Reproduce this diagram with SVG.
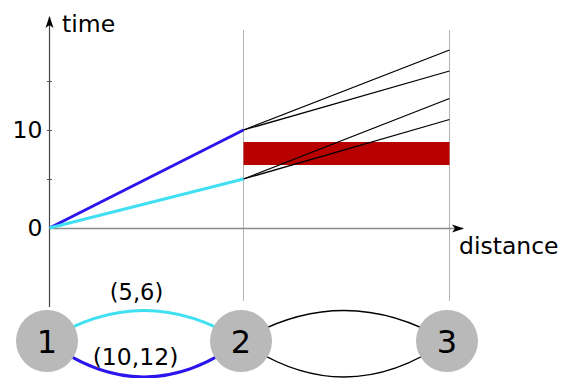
<svg xmlns="http://www.w3.org/2000/svg" width="563" height="378" viewBox="0 0 563 378">
<style>
  text { font-family: "DejaVu Sans", sans-serif; fill: #000; }
  .grid { stroke: #b4b4b4; stroke-width: 1; fill: none; }
  .tick { stroke: #555; stroke-width: 1; }
  .node circle { fill: #b9b9b9; }
  .node text { font-size: 32px; text-anchor: middle; }
  .lbl { font-size: 23.5px; }
  .edge { fill: none; }
  .thin { stroke: #000; stroke-width: 1.3; fill: none; }
</style>
<defs>
  <marker id="arr" viewBox="-13 -5 15 10" refX="0" refY="0" markerWidth="15" markerHeight="10" markerUnits="userSpaceOnUse" orient="auto">
    <path d="M1,0 L-11,-4 L-8,0 L-11,4 z" fill="#000"/>
  </marker>
</defs>
<rect width="563" height="378" fill="#fff"/>
<g id="chart">
  <line class="grid" x1="243.5" y1="30" x2="243.5" y2="301"/>
  <line class="grid" x1="449.5" y1="30" x2="449.5" y2="301"/>
  <rect x="243.5" y="142" width="206" height="23" fill="#b80000"/>
  <line x1="49.5" y1="307" x2="49.5" y2="17" stroke="#444" stroke-width="1.2" marker-end="url(#arr)"/>
  <line x1="49.5" y1="228.5" x2="463" y2="228.5" stroke="#8a8a8a" stroke-width="1.6" marker-end="url(#arr)"/>
  <line class="tick" x1="47" y1="81.5" x2="52" y2="81.5"/>
  <line class="tick" x1="47" y1="130.5" x2="52" y2="130.5"/>
  <line class="tick" x1="47" y1="179.5" x2="52" y2="179.5"/>
  <line x1="243.5" y1="130" x2="449.5" y2="50" class="thin"/>
  <line x1="243.5" y1="130" x2="449.5" y2="71" class="thin"/>
  <line x1="243.5" y1="179" x2="449.5" y2="98.5" class="thin"/>
  <line x1="243.5" y1="179" x2="449.5" y2="119.5" class="thin"/>
  <line x1="49.5" y1="228" x2="243.5" y2="130" stroke="#2b14ee" stroke-width="3"/>
  <line x1="49.5" y1="228" x2="243.5" y2="179" stroke="#40e0f2" stroke-width="3"/>
  <text class="lbl" x="62" y="31.5">time</text>
  <text class="lbl" x="42.5" y="138.3" text-anchor="end">10</text>
  <text class="lbl" x="42.5" y="235.5" text-anchor="end">0</text>
  <text class="lbl" x="459" y="254">distance</text>
</g>
<g id="connectors">
  <path class="edge" d="M47,341 Q144,280 241,341" stroke="#40e0f2" stroke-width="3"/>
  <path class="edge" d="M47,341 Q144,413 241,341" stroke="#2b14ee" stroke-width="3"/>
  <path class="thin" d="M241,341 Q344,280 447,341"/>
  <path class="thin" d="M241,341 Q344,413 447,341"/>
  <text x="136.5" y="300" font-size="22.5" text-anchor="middle">(5,6)</text>
  <text x="135.5" y="365" font-size="23.5" text-anchor="middle">(10,12)</text>
</g>
<g id="node1" class="node"><circle cx="47" cy="341" r="31"/><text x="47" y="352.5">1</text></g>
<g id="node2" class="node"><circle cx="241" cy="341" r="31"/><text x="241" y="352.5">2</text></g>
<g id="node3" class="node"><circle cx="447" cy="341" r="31"/><text x="447" y="352.5">3</text></g>
</svg>
